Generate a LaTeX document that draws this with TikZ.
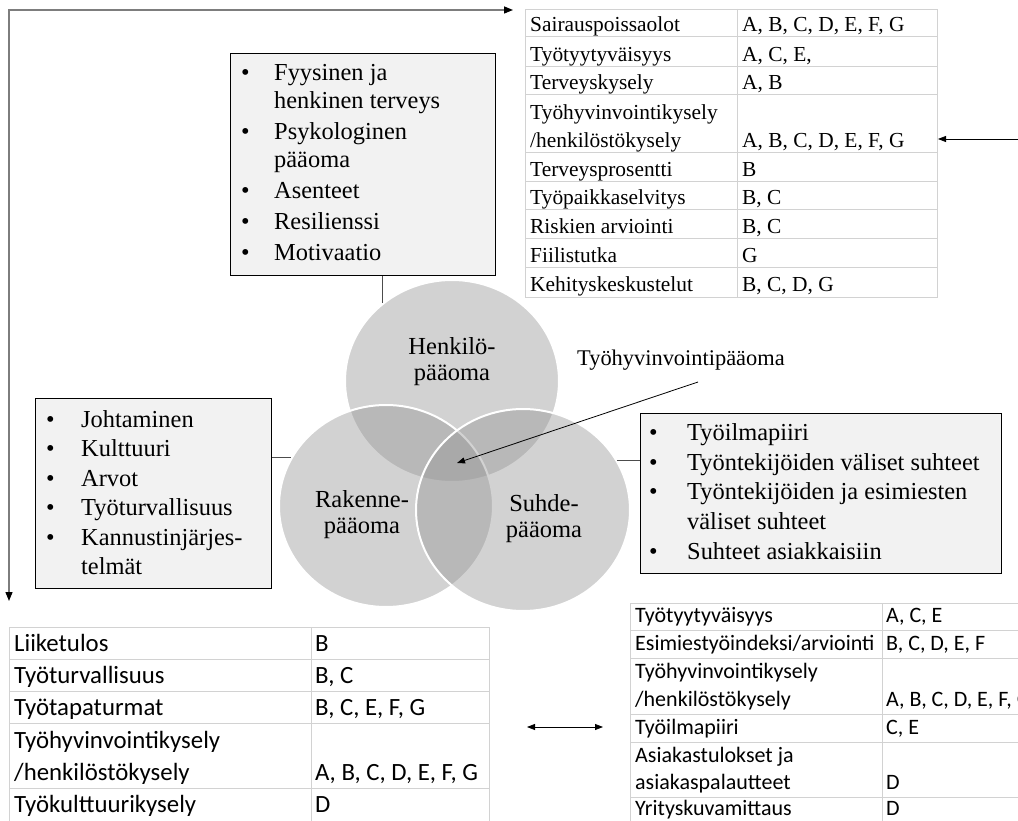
\documentclass[tikz,border=0pt]{standalone}
\usepackage{fontspec}
\setmainfont{Liberation Serif}
\newfontfamily\calib{Carlito}
\usetikzlibrary{arrows.meta,shapes.geometric}
\definecolor{vgray}{RGB}{150,150,150}
\definecolor{boxfill}{RGB}{242,242,242}
\definecolor{rule}{RGB}{210,210,210}
\definecolor{lgray}{RGB}{125,125,125}

\newcommand{\bulline}[5]{%
  \node[itm] (#1b) at (#2,#4) {\textbullet};
  \node[itm] (#1t) at (#3,#4) {#5};}
\newcommand{\contline}[4]{\node[itm] (#1t) at (#2,#3) {#4};}

\begin{document}
\begin{tikzpicture}[x=1pt,y=-1pt,
  box/.style={draw=black, line width=1.1pt, fill=boxfill, inner sep=0pt, anchor=north west},
  tabframe/.style={draw=rule, line width=1pt, inner sep=0pt, anchor=north west},
  grid/.style={draw=rule, line width=1pt},
  itm/.style={anchor=base west, inner sep=0pt, font=\fontsize{24.4}{30}\selectfont},
  tcell/.style={anchor=base west, inner sep=0pt, font=\fontsize{21.4}{28}\selectfont},
  bcell/.style={anchor=base west, inner sep=0pt, font=\calib\fontsize{24.8}{32}\selectfont},
  rcell/.style={anchor=base west, inner sep=0pt, font=\calib\fontsize{22}{28}\selectfont},
  venn/.style={ellipse, draw=white, line width=2pt, fill=vgray, fill opacity=0.42,
    draw opacity=1, minimum width=214pt, minimum height=202pt, inner sep=0pt},
  vlabel/.style={align=center, inner sep=0pt, font=\fontsize{24.5}{26}\selectfont},
  conn/.style={draw=black!70, line width=0.8pt},
  arr/.style={-{Triangle[length=8pt,width=6pt]}, line width=0.8pt},
  darr/.style={{Triangle[length=8pt,width=6pt]}-{Triangle[length=8pt,width=6pt]}, line width=0.8pt},
  larr/.style={{Triangle[length=9pt,width=7pt,color=black]}-{Triangle[length=9pt,width=7pt,color=black]},
    draw=lgray, line width=1.4pt}
]
\clip (0,0) rectangle (1018,821);
\fill[white] (0,0) rectangle (1018,821);

% ---------- Venn circles ----------
\node[venn] (hc) at (452,381) {};
\node[venn] (lc) at (386,506) {};
\node[venn] (rc) at (523,510) {};
\node[vlabel] (hcl) at (452,362) {Henkilö-\\pääoma};
\node[vlabel] (lcl) at (362,515) {Rakenne-\\pääoma};
\node[vlabel] (rcl) at (544,519) {Suhde-\\pääoma};

% ---------- centre label and arrow ----------
\node[anchor=base west, inner sep=0pt, font=\fontsize{22.4}{26}\selectfont] (twp) at (577,365) {Työhyvinvointipääoma};
\coordinate (wpFrom) at (698,382);
\coordinate (core) at (457,463);
\draw[arr] (wpFrom) -- (core);

% ---------- Henkilöpääoma box ----------
\node[box, minimum width=265pt, minimum height=222pt] (hbox) at (230,53) {};
\bulline{h1}{241}{274}{81}{Fyysinen ja}
\contline{h1b}{274}{109}{henkinen terveys}
\bulline{h2}{241}{274}{140}{Psykologinen}
\contline{h2b}{274}{168}{pääoma}
\bulline{h3}{241}{274}{199}{Asenteet}
\bulline{h4}{241}{274}{230}{Resilienssi}
\bulline{h5}{241}{274}{261}{Motivaatio}
\draw[conn] (hbox.south -| hc.132) -- (hc.132);

% ---------- Rakennepääoma box ----------
\node[box, minimum width=236pt, minimum height=190pt] (lbox) at (35,398) {};
\bulline{l1}{46}{81}{427}{Johtaminen}
\bulline{l2}{46}{81}{456}{Kulttuuri}
\bulline{l3}{46}{81}{486}{Arvot}
\bulline{l4}{46}{81}{515}{Työturvallisuus}
\bulline{l5}{46}{81}{545}{Kannustinjärjes-}
\contline{l5b}{81}{574}{telmät}
\draw[conn] (lbox.east |- lc.153.6) -- (lc.153.6);

% ---------- Suhdepääoma box ----------
\node[box, minimum width=361pt, minimum height=160pt] (rbox) at (640,413) {};
\bulline{r1}{649}{687}{440}{Työilmapiiri}
\bulline{r2}{649}{687}{470}{Työntekijöiden väliset suhteet}
\bulline{r3}{649}{687}{499}{Työntekijöiden ja esimiesten}
\contline{r3b}{687}{529}{väliset suhteet}
\bulline{r4}{649}{687}{559}{Suhteet asiakkaisiin}
\draw[conn] (rbox.west |- rc.28.6) -- (rc.28.6);

% ---------- upper measurement table ----------
\node[tabframe, minimum width=412pt, minimum height=288pt] (topTab) at (525,9) {};
\foreach \yy in {37,67,95,153,182,210,239,268} \draw[grid] (525,\yy) -- (937,\yy);
\draw[grid] (737,9) -- (737,297);
\node[tcell] (ta1) at (530,32) {Sairauspoissaolot};
\node[tcell] (tb1) at (742,32) {A, B, C, D, E, F, G};
\node[tcell] (ta2) at (530,62) {Työtyytyväisyys};
\node[tcell] (tb2) at (742,62) {A, C, E,};
\node[tcell] (ta3) at (530,90) {Terveyskysely};
\node[tcell] (tb3) at (742,90) {A, B};
\node[tcell] (ta4) at (530,120) {Työhyvinvointikysely};
\node[tcell] (ta4b) at (530,148) {/henkilöstökysely};
\node[tcell] (tb4) at (742,148) {A, B, C, D, E, F, G};
\node[tcell] (ta5) at (530,177) {Terveysprosentti};
\node[tcell] (tb5) at (742,177) {B};
\node[tcell] (ta6) at (530,205) {Työpaikkaselvitys};
\node[tcell] (tb6) at (742,205) {B, C};
\node[tcell] (ta7) at (530,234) {Riskien arviointi};
\node[tcell] (tb7) at (742,234) {B, C};
\node[tcell] (ta8) at (530,263) {Fiilistutka};
\node[tcell] (tb8) at (742,263) {G};
\node[tcell] (ta9) at (530,292) {Kehityskeskustelut};
\node[tcell] (tb9) at (742,292) {B, C, D, G};
\coordinate (topIn) at (1018,139);
\draw[arr] (topIn) -- (topTab.east |- topIn);

% ---------- lower left table ----------
\node[tabframe, minimum width=480pt, minimum height=200pt] (blTab) at (9,627) {};
\foreach \yy in {659,691,723,788} \draw[grid] (9,\yy) -- (489,\yy);
\draw[grid] (311,627) -- (311,827);
\node[bcell] (ba1) at (14,651) {Liiketulos};
\node[bcell] (bb1) at (315,651) {B};
\node[bcell] (ba2) at (14,683) {Työturvallisuus};
\node[bcell] (bb2) at (315,683) {B, C};
\node[bcell] (ba3) at (14,715) {Työtapaturmat};
\node[bcell] (bb3) at (315,715) {B, C, E, F, G};
\node[bcell] (ba4) at (14,748) {Työhyvinvointikysely};
\node[bcell] (ba4b) at (14,780) {/henkilöstökysely};
\node[bcell] (bb4) at (315,780) {A, B, C, D, E, F, G};
\node[bcell] (ba5) at (14,812) {Työkulttuurikysely};
\node[bcell] (bb5) at (315,812) {D};

% ---------- lower right table ----------
\node[tabframe, minimum width=420pt, minimum height=240pt] (brTab) at (630,603) {};
\foreach \yy in {630,658,714,742,797} \draw[grid] (630,\yy) -- (1050,\yy);
\draw[grid] (882,603) -- (882,843);
\node[rcell] (ra1) at (635,622) {Työtyytyväisyys};
\node[rcell] (rb1) at (886,622) {A, C, E};
\node[rcell] (ra2) at (635,650) {Esimiestyöindeksi/arviointi};
\node[rcell] (rb2) at (886,650) {B, C, D, E, F};
\node[rcell] (ra3) at (635,678) {Työhyvinvointikysely};
\node[rcell] (ra3b) at (635,706) {/henkilöstökysely};
\node[rcell] (rb3) at (886,706) {A, B, C, D, E, F, G};
\node[rcell] (ra4) at (635,734) {Työilmapiiri};
\node[rcell] (rb4) at (886,734) {C, E};
\node[rcell] (ra5) at (635,762) {Asiakastulokset ja};
\node[rcell] (ra5b) at (635,789) {asiakaspalautteet};
\node[rcell] (rb5) at (886,789) {D};
\node[rcell] (ra6) at (635,815) {Yrityskuvamittaus};
\node[rcell] (rb6) at (886,815) {D};

% ---------- links between tables ----------
\coordinate (lA) at (9,601);
\coordinate (lB) at (9,10);
\coordinate (lC) at (513,10);
\draw[larr] (lA) -- (lB) -- (lC);
\coordinate (dA) at (527,727);
\coordinate (dB) at (603,727);
\draw[darr] (dA) -- (dB);
\end{tikzpicture}
\end{document}
